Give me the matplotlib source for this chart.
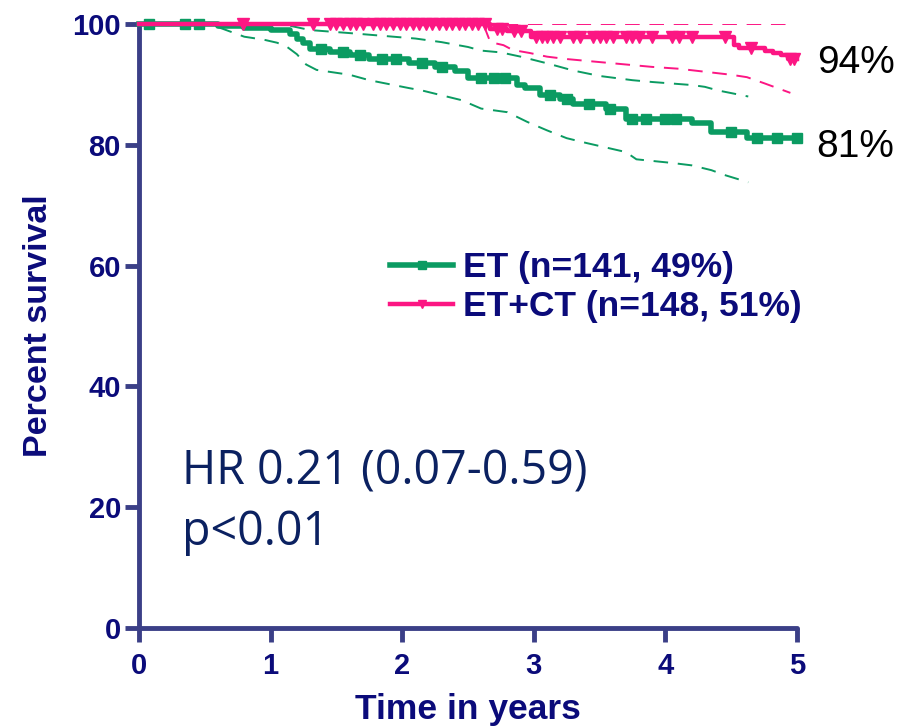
import numpy as np
import matplotlib
matplotlib.use("Agg")
import matplotlib.pyplot as plt

# --- data ---
et_t = [0, 0.6, 0.8, 1.0, 1.15, 1.2, 1.25, 1.3, 1.45, 1.6, 1.75, 2.05, 2.25, 2.4, 2.5,
        2.87, 2.93, 3.05, 3.2, 3.3, 3.55, 3.7, 4.2, 4.35, 4.62, 5.0]
et_s = [100, 99.6, 99.3, 99.0, 98.3, 97.5, 96.8, 95.8, 95.3, 94.9, 94.2, 93.6, 92.9, 92.3, 91.1,
        89.9, 89.4, 88.2, 87.6, 86.7, 85.9, 84.2, 83.6, 82.1, 81.1, 81.1]
et_cens = [0.08, 0.35, 0.46, 1.38, 1.55, 1.68, 1.85, 1.95, 2.15, 2.3, 2.6, 2.7, 2.78, 3.12,
           3.25, 3.42, 3.58, 3.75, 3.85, 4.0, 4.08, 4.5, 4.7, 4.85, 5.0]

ct_t = [0, 2.67, 2.8, 2.98, 4.52, 4.56, 4.76, 4.82, 4.88, 4.93, 5.0]
ct_s = [100, 99.2, 98.8, 97.9, 96.6, 96.0, 95.6, 95.2, 94.8, 94.2, 94.2]
ct_cens = [0.79, 1.32, 1.45, 1.5, 1.55, 1.6, 1.65, 1.7, 1.78, 1.83, 1.88, 1.93, 1.98, 2.03,
           2.08, 2.13, 2.18, 2.23, 2.28, 2.33, 2.38, 2.43, 2.48, 2.53, 2.58, 2.63, 2.72, 2.76,
           2.85, 2.9, 3.02, 3.06, 3.1, 3.15, 3.2, 3.3, 3.35, 3.45, 3.5, 3.55, 3.6, 3.7, 3.75,
           3.8, 3.9, 4.05, 4.1, 4.2, 4.45, 4.65, 4.95, 4.98]

# 95% confidence bands
et_up_t = [1.15, 1.3, 1.6, 2.1, 2.3, 2.5, 2.6, 2.75, 2.9, 3.1, 3.3, 3.5, 3.75, 3.9, 4.2, 4.3, 4.4, 4.63]
et_up_s = [99.7, 99.0, 98.5, 97.6, 97.0, 96.2, 95.6, 95.3, 94.6, 93.5, 92.3, 91.4, 90.7, 90.4,
           89.9, 89.6, 89.0, 88.0]
et_lo_t = [0.6, 0.8, 0.95, 1.05, 1.12, 1.2, 1.27, 1.35, 1.6, 1.75, 2.05, 2.15, 2.45, 2.6, 2.8,
           2.95, 3.1, 3.25, 3.4, 3.7, 3.78, 4.05, 4.2, 4.35, 4.45, 4.63]
et_lo_s = [99.5, 97.9, 97.4, 96.9, 96.3, 95.0, 93.3, 92.4, 91.6, 90.7, 89.4, 89.0, 87.4, 86.0,
           85.4, 83.8, 82.4, 81.1, 80.3, 78.8, 77.6, 77.0, 76.6, 75.8, 75.0, 73.8]
ct_up_t = [0, 4.95]
ct_up_s = [100, 100]
ct_lo_t = [2.62, 2.67, 2.77, 2.84, 2.97, 3.1, 3.25, 3.35, 3.55, 3.7, 3.9, 4.1, 4.3, 4.5, 4.62,
           4.75, 4.95]
ct_lo_s = [99.8, 97.0, 96.5, 95.7, 95.2, 94.6, 94.2, 94.0, 93.6, 93.3, 92.9, 92.6, 92.1, 91.6,
           91.2, 90.2, 88.6]

green = "#0b9b62"
pink = "#fc1683"
axcol = "#3b3f87"
navy = "#0b0b7a"


def step_at(times, surv, t):
    idx = np.searchsorted(times, t, side="right") - 1
    return np.asarray(surv)[idx]


fig = plt.figure(figsize=(9.13, 7.28), dpi=100)
ax = fig.add_axes([0.1522, 0.1374, 0.7207, 0.8296])

dash = dict(lw=1.4, dashes=(7.5, 5))
ax.plot(et_up_t, et_up_s, color=green, **dash)
ax.plot(et_lo_t, et_lo_s, color=green, **dash)
ax.plot(ct_up_t, ct_up_s, color=pink, **dash)
ax.plot(ct_lo_t, ct_lo_s, color=pink, **dash)

ax.plot(et_t, et_s, drawstyle="steps-post", color=green, lw=4.0, clip_on=False, zorder=4)
ax.plot(et_cens, step_at(et_t, et_s, et_cens), ls="none", marker="s", ms=7,
        color=green, clip_on=False, zorder=4)
ax.plot(ct_t, ct_s, drawstyle="steps-post", color=pink, lw=3.2, clip_on=False, zorder=5)
ax.plot(ct_cens, step_at(ct_t, ct_s, ct_cens), ls="none", marker="v", ms=8,
        color=pink, clip_on=False, zorder=5)

# legend handles
h1, = ax.plot([], [], color=green, lw=4.0, marker="s", ms=6)
h2, = ax.plot([], [], color=pink, lw=3.2, marker="v", ms=6)
leg = ax.legend([h1, h2], ["ET (n=141, 49%)", "ET+CT (n=148, 51%)"],
                loc="upper left", bbox_to_anchor=(0.381, 0.624), frameon=False,
                handlelength=1.8, handletextpad=0.27, numpoints=1, labelspacing=0.17,
                borderpad=0, borderaxespad=0,
                prop=dict(family="Liberation Sans", weight="bold", size=25.5))
for txt in leg.get_texts():
    txt.set_color(navy)

ax.set_xlim(0, 5)
ax.set_ylim(0, 100)
ax.set_xticks([0, 1, 2, 3, 4, 5])
ax.set_yticks([0, 20, 40, 60, 80, 100])
for s in ["top", "right"]:
    ax.spines[s].set_visible(False)
for s in ["left", "bottom"]:
    ax.spines[s].set_color(axcol)
    ax.spines[s].set_linewidth(3.5)
    ax.spines[s].set_capstyle("round")
ax.tick_params(axis="both", color=axcol, width=3.5, length=10, labelcolor=navy)
ax.tick_params(axis="x", pad=7)
ax.tick_params(axis="y", pad=3)
for lab in ax.get_xticklabels() + ax.get_yticklabels():
    lab.set_fontfamily("Liberation Sans")
    lab.set_fontweight("bold")
    lab.set_fontsize(21)

ax.set_xlabel("Time in years", family="Liberation Sans", weight="bold", size=25.5,
              color=navy, labelpad=10)
ax.set_ylabel("Percent survival", family="Liberation Sans", weight="bold", size=24.5,
              color=navy, labelpad=13)

ax.text(5.15, 93.6, "94%", family="Liberation Sans", size=28, color="black",
        va="center", ha="left", clip_on=False)
ax.text(5.15, 79.6, "81%", family="Liberation Sans", size=28, color="black",
        va="center", ha="left", clip_on=False)

ax.text(0.33, 23.7, "HR 0.21 (0.07-0.59)", family="Open Sans", size=33.5, color="#0b2161",
        va="baseline", ha="left")
ax.text(0.33, 13.7, "p<0.01", family="Open Sans", size=33.5, color="#0b2161",
        va="baseline", ha="left")

fig.savefig("out.png", dpi=100)
